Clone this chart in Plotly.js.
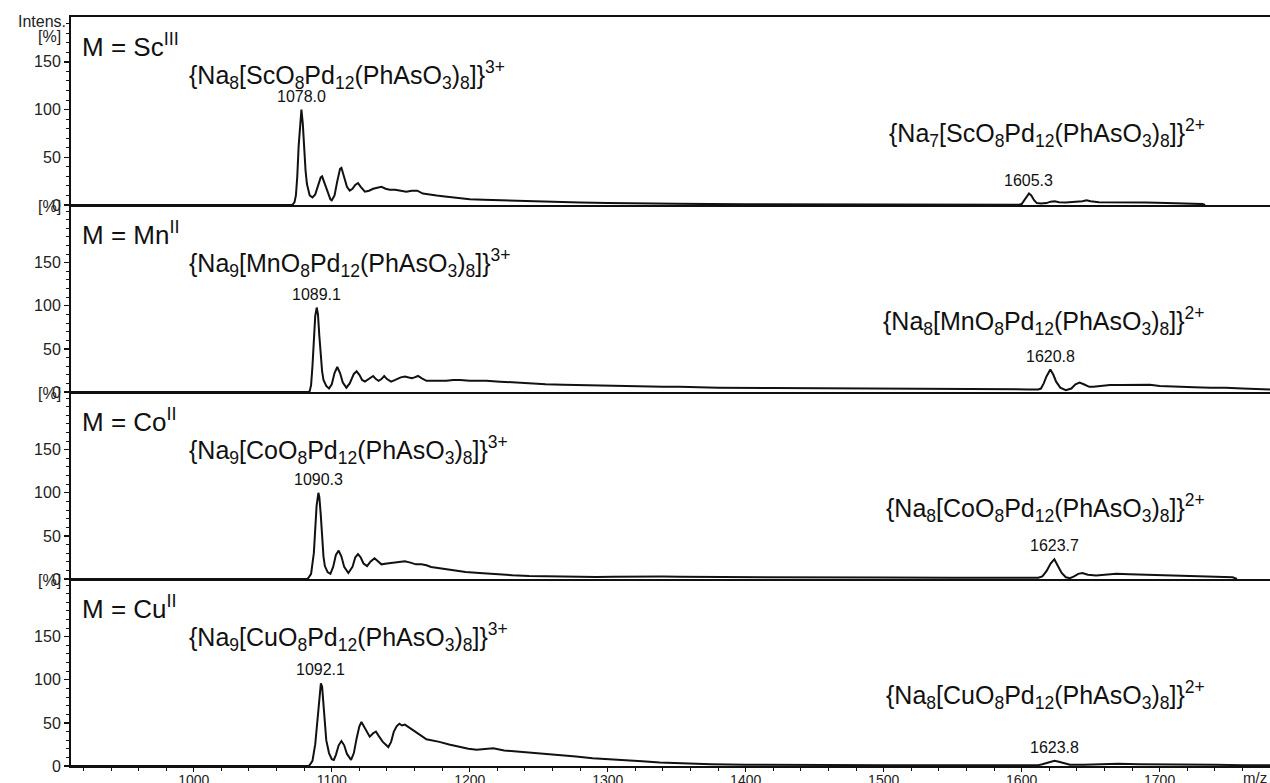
<!DOCTYPE html>
<html><head><meta charset="utf-8">
<script src="https://cdn.plot.ly/plotly-3.0.1.min.js"></script>
<style>html,body{margin:0;padding:0;background:#fff}#chart{width:1270px;height:783px}</style>
</head><body><div id="chart"></div>
<script>
// ---- data ----
const metals = ['Sc<sup>III</sup>', 'Mn<sup>II</sup>', 'Co<sup>II</sup>', 'Cu<sup>II</sup>'];
const ions3 = [
  '{Na<sub>8</sub>[ScO<sub>8</sub>Pd<sub>12</sub>(PhAsO<sub>3</sub>)<sub>8</sub>]}<sup>3+</sup>',
  '{Na<sub>9</sub>[MnO<sub>8</sub>Pd<sub>12</sub>(PhAsO<sub>3</sub>)<sub>8</sub>]}<sup>3+</sup>',
  '{Na<sub>9</sub>[CoO<sub>8</sub>Pd<sub>12</sub>(PhAsO<sub>3</sub>)<sub>8</sub>]}<sup>3+</sup>',
  '{Na<sub>9</sub>[CuO<sub>8</sub>Pd<sub>12</sub>(PhAsO<sub>3</sub>)<sub>8</sub>]}<sup>3+</sup>'];
const ions2 = [
  '{Na<sub>7</sub>[ScO<sub>8</sub>Pd<sub>12</sub>(PhAsO<sub>3</sub>)<sub>8</sub>]}<sup>2+</sup>',
  '{Na<sub>8</sub>[MnO<sub>8</sub>Pd<sub>12</sub>(PhAsO<sub>3</sub>)<sub>8</sub>]}<sup>2+</sup>',
  '{Na<sub>8</sub>[CoO<sub>8</sub>Pd<sub>12</sub>(PhAsO<sub>3</sub>)<sub>8</sub>]}<sup>2+</sup>',
  '{Na<sub>8</sub>[CuO<sub>8</sub>Pd<sub>12</sub>(PhAsO<sub>3</sub>)<sub>8</sub>]}<sup>2+</sup>'];
const peak3 = [1078.0, 1089.1, 1090.3, 1092.1];
const peak2 = [1605.3, 1620.8, 1623.7, 1623.8];
const xTicks = [1000, 1100, 1200, 1300, 1400, 1500, 1600, 1700];
const yTicks = [0, 50, 100, 150];

const scMz  = [911,1060,1071,1072,1073,1074,1075,1076,1077,1078,1079,1080,1081,1082,1083,1084,1086,1088,1090,1092,1093,1095,1097,1099,1100,1102,1104,1106,1107,1109,1111,1113,1115,1117,1119,1121,1124,1127,1130,1133,1136,1139,1142,1146,1150,1154,1158,1162,1166,1170,1176,1182,1188,1194,1200,1210,1220,1230,1241,1253,1265,1280,1300,1320,1350,1400,1450,1500,1550,1598,1600,1602,1604,1605.3,1607,1609,1611,1614,1618,1621,1624,1627,1632,1638,1644,1647,1650,1656,1665,1675,1690,1705,1720,1731,1733];
const scInt = [0,0,0,1,3,10,30,62,88,100,85,58,36,22,14,10,8,11,20,29,30,22,12,6,5,10,25,38,39,28,19,15,17,21,23,19,14,15,17,18,19,17,16,16,15,14,15,15,12,11,10,9,8,7,6,5.5,5,4.5,4,3.5,3,2.5,2,1.5,1.2,0.8,0.5,0.5,0.4,0.3,1,5,10,12,10,5,2,1.5,2,3.5,4,3,2.5,3,4,5,4,3,3,2.5,2.5,2,1.5,1,0];

const mnMz  = [911,1060,1083,1084,1085,1086,1087,1088,1089.1,1090,1091,1092,1093,1094,1096,1098,1100,1102,1104,1106,1108,1110.6,1113,1116,1118,1120,1122,1124,1127,1130,1132,1134,1136,1138,1140,1143,1146,1150,1153,1156,1158,1160,1162.5,1165,1168.6,1175,1183,1188,1193,1200,1212,1222,1231,1243,1255,1268,1280,1292,1304,1316,1328,1340,1352,1380,1420,1460,1500,1540,1580,1605,1612,1614,1616,1618,1620.8,1623,1625,1628,1632,1636,1639,1642,1645,1649,1652,1658,1664,1672,1680,1687,1693,1700,1712,1725,1737,1748,1760,1770,1780];
const mnInt = [0,0,0,1,8,30,60,88,98,90,65,40,24,14,7,4,9,22,29,22,11,5,10,21,24,20,14,12,15,18.6,15,13,15,18.6,15,12,14,17,18,17,16,17,18.6,16,13,13,13,14,14,13,13,12,11,10,9,8.5,8,7.5,7,6.5,6,6,6,5,4.5,4,3.5,3.5,3,3,3,4,10,18,26,20,12,5,2,4,9,11,9,6,6,7,8,8,8,8,8.5,7,6,5.5,5,5,4,3.5,3];

const coMz  = [911,1060,1082,1083,1085,1087,1088,1089,1090.3,1091,1092,1093,1094,1095,1097,1099,1101,1103,1105,1107,1109,1112,1115,1117,1119,1121,1123,1125.6,1128,1131,1133,1136,1140,1144,1148,1153,1157,1161,1165,1168.6,1172,1176,1182,1188,1197,1207,1219,1231,1243,1256,1268,1280,1292,1304,1316,1328,1340,1352,1400,1450,1500,1550,1600,1612,1615,1618,1621,1623.7,1626,1629,1632,1635,1638,1641,1644,1648,1654,1660,1668.6,1678,1688,1700,1712,1724,1740,1753,1756];
const coInt = [0,0,0,1,6,30,60,85,100,95,75,48,26,15,8,6,14,28,33,26,14,7,14,25,29,25,18,15,20,24,21,17,18,19,20,20.5,19,17,17,16,14,13,11,9.7,8,7,5.5,4.3,3.5,3,2.5,2,2.2,2.5,2.8,3,2.8,2.5,2,1.8,1.6,1.5,1.5,1.5,3,9,18,23,16,7,2,1,3,6,7,5,4,5,6,5.5,5,4,3.5,3,2.5,2,0];

const cuMz  = [911,1060,1083,1084,1086,1088,1090,1091,1092.1,1093,1094,1095,1096,1098,1100,1101.5,1103,1105,1107,1109,1111,1114,1116,1118,1120,1121.5,1123,1125,1127.5,1130,1132,1134,1137,1141,1143,1145,1147,1149,1151,1153,1155,1158,1161,1165,1168.6,1173,1178,1185,1193,1199,1205,1211,1217,1225,1233,1241,1253,1265,1277,1289,1301,1313.5,1325,1337.7,1352,1375,1400,1450,1500,1550,1600,1612,1615,1619,1623.8,1627,1631,1635,1645,1655,1670,1685,1700,1720,1740,1760,1780];
const cuInt = [0,0,0,1,6,25,60,80,96,92,72,48,30,15,8,7,13,24,29,24,14,7,15,32,46,51,47,40,34,38,40,35,28,22,28,40,46,49,47,48,46,42,39,35,31,30,28,25,22,20,19,20,20.5,18,17,15.5,14,12.8,11,9,8,7,5.5,4,3,2,1.5,1,1,1,1,1,2,4,6,5,3,1.5,1.5,2,2.5,2,2,1.5,1.5,1,1];

// ---- build chart ----
const series = [[scMz, scInt], [mnMz, mnInt], [coMz, coInt], [cuMz, cuInt]];
const W = 1270, H = 783;
const mL = 71, mR = 0, mT = 17, mB = 17;
const plotH = H - mT - mB;
const bounds = [17, 205, 392, 579, 766];
const yMax = [197, 217, 217, 217];
const xRange = [911, 1780];
const FONT = 'Liberation Sans, Arial, Helvetica, sans-serif';
const INK = '#111';

function toPaper(py) { return (H - mB - py) / plotH; }
function peakHeight(mz, ints, c) {
  let best = 0;
  for (let i = 0; i < mz.length; i++) if (Math.abs(mz[i] - c) <= 2 && ints[i] > best) best = ints[i];
  return best;
}

const traces = [];
const layout = {
  width: W, height: H,
  margin: {l: mL, r: mR, t: mT, b: mB, pad: 0},
  paper_bgcolor: '#fff', plot_bgcolor: '#fff',
  showlegend: false,
  font: {family: FONT, color: INK},
  annotations: []
};

for (let i = 0; i < 4; i++) {
  const sfx = i === 0 ? '' : String(i + 1);
  const [mz, ints] = series[i];
  traces.push({
    x: mz, y: ints, type: 'scatter', mode: 'lines',
    xaxis: 'x' + sfx, yaxis: 'y' + sfx,
    line: {color: INK, width: 2},
    hoverinfo: 'skip'
  });
  const dom = [toPaper(bounds[i + 1]), toPaper(bounds[i])];
  const bottom = i === 3;
  const xa = {
    domain: [0, 1], range: xRange, anchor: 'y' + sfx,
    showline: true, linecolor: INK, linewidth: 2,
    mirror: i === 0,
    showgrid: false, zeroline: false,
    tickmode: 'array', tickvals: xTicks,
    ticks: bottom ? 'outside' : '', ticklen: 4, tickwidth: 1.2, tickcolor: INK,
    showticklabels: bottom,
    tickfont: {size: 14, family: FONT, color: '#222'},
    fixedrange: true
  };
  if (bottom) {
    xa.minor = {tickmode: 'linear', tick0: 1000, dtick: 20, ticks: 'outside', ticklen: 3, tickwidth: 1, tickcolor: INK, showgrid: false};
    xa.ticklabelstandoff = -4;
  }
  layout['xaxis' + sfx] = xa;
  layout['yaxis' + sfx] = {
    domain: dom, range: [0, yMax[i]], anchor: 'x' + sfx,
    showline: true, linecolor: INK, linewidth: 2,
    showgrid: false, zeroline: false,
    tickmode: 'array', tickvals: yTicks,
    ticks: 'outside', ticklen: 5, tickwidth: 1.3, tickcolor: INK,
    tickfont: {size: 16, family: FONT, color: '#222'},
    minor: {tickmode: 'linear', tick0: 0, dtick: 10, ticks: 'outside', ticklen: 3, tickwidth: 1, tickcolor: INK, showgrid: false},
    fixedrange: true
  };

  const top = dom[1];
  layout.annotations.push(
    {xref: 'paper', yref: 'paper', x: 0.0075, y: top, yshift: -28, xanchor: 'left', yanchor: 'middle',
     text: 'M = ' + metals[i], showarrow: false, font: {size: 26, family: FONT, color: INK}},
    {xref: 'paper', yref: 'paper', x: 0.0967, y: top, yshift: -58, xanchor: 'left', yanchor: 'middle',
     text: ions3[i], showarrow: false, font: {size: 25, family: FONT, color: INK}},
    {xref: 'paper', yref: 'paper', x: 0.9475, y: top, yshift: -116, xanchor: 'right', yanchor: 'middle',
     text: ions2[i], showarrow: false, font: {size: 25, family: FONT, color: INK}},
    {xref: 'x' + sfx, yref: 'y' + sfx, x: peak3[i], y: peakHeight(mz, ints, peak3[i]), yshift: 3,
     xanchor: 'center', yanchor: 'bottom', text: peak3[i].toFixed(1), showarrow: false,
     font: {size: 16, family: FONT, color: INK}},
    {xref: 'x' + sfx, yref: 'y' + sfx, x: peak2[i], y: peakHeight(mz, ints, peak2[i]), yshift: 3,
     xanchor: 'center', yanchor: 'bottom', text: peak2[i].toFixed(1), showarrow: false,
     font: {size: 16, family: FONT, color: INK}}
  );
  if (i > 0) {
    layout.annotations.push({xref: 'paper', yref: 'paper', x: 0, xshift: -8, y: top, yshift: -1,
      xanchor: 'right', yanchor: 'middle', text: '[%]', showarrow: false,
      font: {size: 16, family: FONT, color: '#222'}});
  }
}
layout.annotations.push(
  {xref: 'paper', yref: 'paper', x: 0, xshift: -3, y: 1, yshift: -4, xanchor: 'right', yanchor: 'middle',
   text: 'Intens.', showarrow: false, font: {size: 16, family: FONT, color: '#222'}},
  {xref: 'paper', yref: 'paper', x: 0, xshift: -8, y: 1, yshift: -19, xanchor: 'right', yanchor: 'middle',
   text: '[%]', showarrow: false, font: {size: 16, family: FONT, color: '#222'}},
  {xref: 'paper', yref: 'paper', x: 0.9875, y: 0, yshift: -11, xanchor: 'center', yanchor: 'middle',
   text: 'm/z', showarrow: false, font: {size: 15, family: FONT, color: '#222'}}
);

Plotly.newPlot('chart', traces, layout, {staticPlot: true, displayModeBar: false});
</script></body></html>
